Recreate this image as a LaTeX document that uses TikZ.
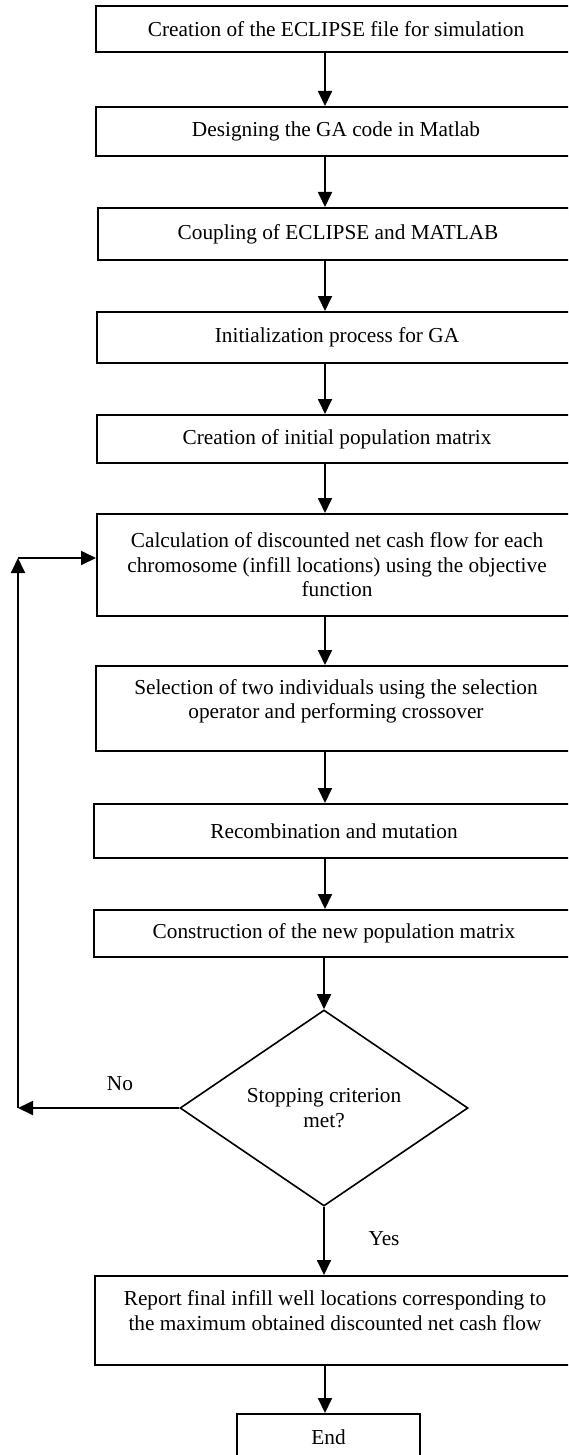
\documentclass[tikz,border=0pt]{standalone}
\usepackage{fontspec}
\setmainfont{Liberation Serif}
\usetikzlibrary{shapes.geometric,arrows.meta}

\begin{document}
\begin{tikzpicture}[x=1pt,y=-1pt,line join=miter,
  box/.style={draw,line width=2pt,minimum width=480pt,inner sep=0pt,align=center,font=\fontsize{21.3}{24.5}\selectfont},
  arr/.style={line width=1.8pt,-{Triangle[length=15pt,width=14pt]}}]
\clip (0,0) rectangle (568,1455);

% main column of steps
\node[box,minimum height=46pt] (ecl) at (336,29) {Creation of the ECLIPSE file for simulation};
\node[box,minimum height=49pt] (ga) at (336,131.5) {Designing the GA code in Matlab};
\node[box,minimum height=52pt] (cpl) at (338,234) {Coupling of ECLIPSE and MATLAB};
\node[box,minimum height=51pt] (init) at (337,337.5) {Initialization process for GA};
\node[box,minimum height=48pt] (pop) at (337,439) {Creation of initial population matrix};
\node[box,minimum height=102pt] (calc) at (337,565) {Calculation of discounted net cash flow for each\\chromosome (infill locations) using the objective\\function};
\node[box,minimum height=85pt] (sel) at (336,708.5) {Selection of two individuals using the selection\\operator and performing crossover\\[-5pt]\mbox{}};
\node[box,minimum height=54pt] (rec) at (334,831) {Recombination and mutation};
\node[box,minimum height=47pt] (new) at (334,933.5) {Construction of the new population matrix};

% decision
\node[diamond,draw,line width=1.6pt,minimum width=288pt,minimum height=196pt,aspect=1.47,inner sep=0pt,align=center,font=\fontsize{21.3}{24.5}\selectfont] (stop) at (324,1108) {Stopping criterion\\met?};

\node[box,minimum height=89pt] (rep) at (335,1320.5) {Report final infill well locations corresponding to\\the maximum obtained discounted net cash flow\\[-4pt]\mbox{}};
\node[box,minimum width=183pt,minimum height=46pt] (end) at (328.5,1437) {End};

% arrows down the column
\coordinate (ax) at (325,0);
\foreach \a/\b in {ecl/ga,ga/cpl,cpl/init,init/pop,pop/calc,calc/sel,sel/rec,rec/new}
  \draw[arr] (\a.south -| ax) -- (\b.north -| ax);
\draw[arr] (new.south -| stop.north) -- (stop.north);
\draw[arr] (stop.south) -- (rep.north -| stop.south);
\draw[arr] (rep.south -| ax) -- (end.north -| ax);

% loop back on No
\coordinate (lo) at (18,1108);
\coordinate (hi) at (18,558);
\draw[arr] (stop.west) -- (lo);
\draw[arr] (lo) -- (hi);
\draw[arr] (hi) -- (calc.west |- hi);

\node[font=\fontsize{21.3}{24.5}\selectfont] (no) at (120,1084) {No};
\node[font=\fontsize{21.3}{24.5}\selectfont] (yes) at (384,1239) {Yes};

\end{tikzpicture}
\end{document}
